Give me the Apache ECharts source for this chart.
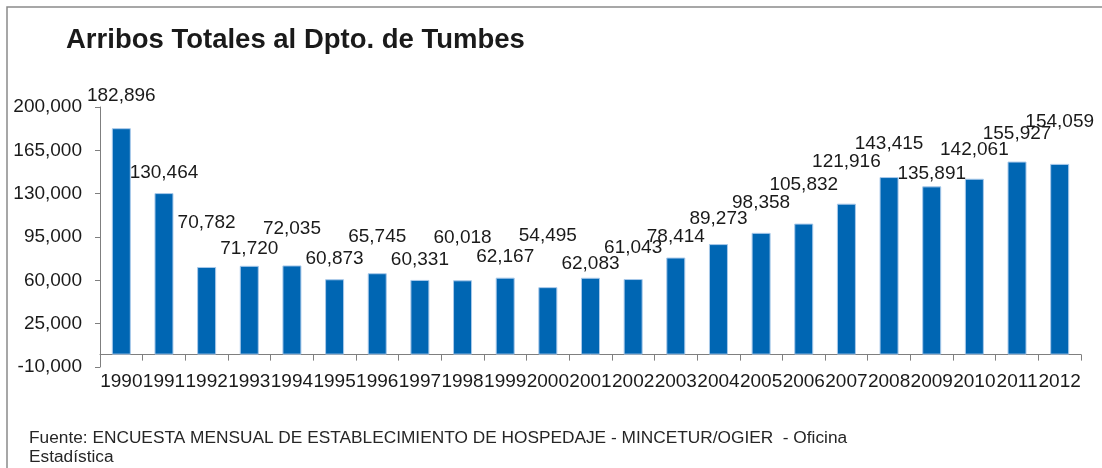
<!DOCTYPE html>
<html>
<head>
<meta charset="utf-8">
<script src="https://cdn.jsdelivr.net/npm/echarts@6/dist/echarts.min.js"></script>
<style>
html,body{margin:0;padding:0;background:#fff;}
#chart{width:1102px;height:468px;}
</style>
</head>
<body>
<div id="chart"></div>
<script>
var titleText = 'Arribos Totales al Dpto. de Tumbes';
var sourceText = 'Fuente: ENCUESTA MENSUAL DE ESTABLECIMIENTO DE HOSPEDAJE - MINCETUR/OGIER  - Oficina\nEstadística';
var years = ['1990','1991','1992','1993','1994','1995','1996','1997','1998','1999','2000','2001','2002','2003','2004','2005','2006','2007','2008','2009','2010','2011','2012'];
var arrivals = [182896,130464,70782,71720,72035,60873,65745,60331,60018,62167,54495,62083,61043,78414,89273,98358,105832,121916,143415,135891,142061,155927,154059];
var yTicks = {min: -10000, max: 200000, step: 35000};
// label gap above each bar (px), as placed in the reference
var labelGap = [23,11,35,8,27,11,27,11,33,11,42,4,22,11,16,21,29,32,24,3,19,18,33];

var FONT = 'Liberation Sans, Arial, sans-serif';
function fmt(v){ return Number(v).toLocaleString('en-US'); }

var chart = echarts.init(document.getElementById('chart'));
var seriesData = arrivals.map(function(v,i){
  return { value: v, label: { distance: labelGap[i] } };
});

chart.setOption({
  animation: false,
  backgroundColor: '#ffffff',
  title: [{
    text: titleText,
    left: 61, top: 21,
    textStyle: { fontFamily: FONT, fontSize: 27.5, fontWeight: 'bold', color: '#1a1a1a' }
  },{
    text: sourceText,
    left: 24, top: 424,
    textStyle: { fontFamily: FONT, fontSize: 17.3, fontWeight: 'normal', color: '#262626', lineHeight: 19 }
  }],
  graphic: [{
    type: 'rect', silent: true,
    shape: { x: 7, y: 7, width: 1300, height: 700 },
    style: { fill: 'none', stroke: '#8a8a8a', lineWidth: 1.5 }
  }],
  grid: { left: 100, right: 21, top: 107, bottom: 101, containLabel: false },
  xAxis: {
    type: 'category',
    data: years,
    axisLine: { show: true, onZero: true, lineStyle: { color: '#7f7f7f', width: 1 } },
    axisTick: { show: true, alignWithLabel: false, length: 6, lineStyle: { color: '#7f7f7f' } },
    axisLabel: { interval: 0, margin: 5, fontFamily: FONT, fontSize: 19, color: '#1a1a1a' },
    splitLine: { show: false }
  },
  yAxis: {
    type: 'value',
    min: yTicks.min, max: yTicks.max, interval: yTicks.step,
    axisLine: { show: true, lineStyle: { color: '#7f7f7f', width: 1 } },
    axisTick: { show: true, length: 5, lineStyle: { color: '#7f7f7f' } },
    axisLabel: { margin: 18, fontFamily: FONT, fontSize: 19, color: '#1a1a1a', formatter: fmt },
    splitLine: { show: false }
  },
  series: [{
    type: 'bar',
    data: seriesData,
    barWidth: 19,
    itemStyle: { color: '#0066b3', borderColor: '#a9c9ea', borderWidth: 1 },
    label: {
      show: true, position: 'top',
      fontFamily: FONT, fontSize: 19, color: '#1a1a1a',
      formatter: function(p){ return fmt(p.value); }
    }
  }]
});
</script>
</body>
</html>
